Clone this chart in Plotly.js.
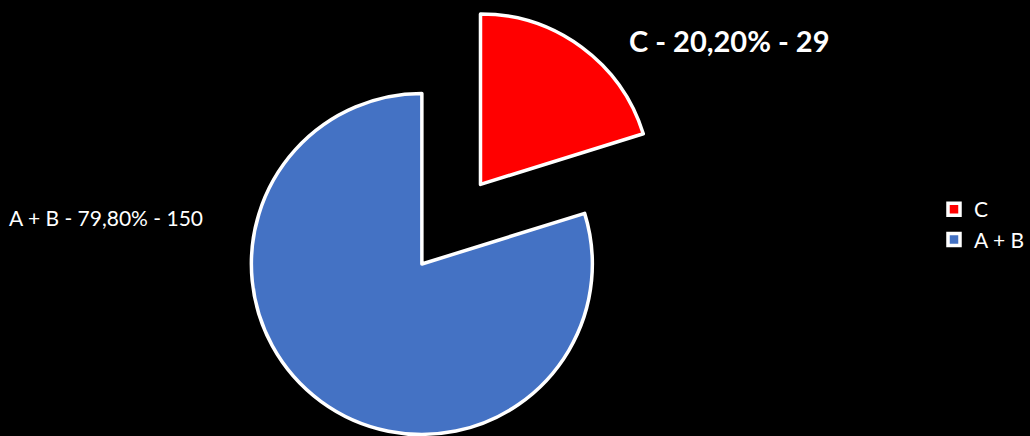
<!DOCTYPE html>
<html>
<head>
<meta charset="utf-8">
<script src="https://cdn.plot.ly/plotly-3.0.1.min.js"></script>
<style>
html, body { margin:0; padding:0; background:#000; overflow:hidden; width:1030px; height:436px; }
#chart { position:absolute; left:0; top:-16px; width:1030px; height:560px; }
</style>
</head>
<body>
<div id="chart"></div>
<script>
// Data
const labels = ["C", "A + B"];
const percents = [20.20, 79.80];
const counts = [29, 150];
const colors = ["#FF0000", "#4472C4"];
const pulls = [0.58, 0];

function fmtPct(p) { return p.toFixed(2).replace(".", ",") + "%"; }

const trace = {
  type: "pie",
  labels: labels,
  values: percents,
  sort: false,
  direction: "clockwise",
  rotation: 0,
  pull: pulls,
  textinfo: "none",
  hoverinfo: "skip",
  marker: { colors: colors, line: { color: "#FFFFFF", width: 3.5 } },
  domain: { x: [154/1030, 698/1030], y: [0, 1] }
};

const annotations = [
  { text: "<b>" + labels[0] + " - " + fmtPct(percents[0]) + " - " + counts[0] + "</b>",
    xref: "paper", yref: "paper", x: 0.6145, y: 0.91, xanchor: "left", yanchor: "middle",
    showarrow: false, font: { family: "Lato, 'Open Sans', sans-serif", size: 29, color: "#FFFFFF" } },
  { text: labels[1] + " - " + fmtPct(percents[1]) + " - " + counts[1],
    xref: "paper", yref: "paper", x: 0.0068, y: 0.5846, xanchor: "left", yanchor: "middle",
    showarrow: false, font: { family: "Lato, 'Open Sans', sans-serif", size: 21, color: "#FFFFFF" } }
];

const layout = {
  width: 1030, height: 560,
  margin: { l: 0, r: 0, t: 8, b: 8 },
  paper_bgcolor: "#000000",
  plot_bgcolor: "#000000",
  showlegend: true,
  legend: {
    x: 0.916, y: 0.5726, xanchor: "left", yanchor: "middle",
    font: { family: "Lato, 'Open Sans', sans-serif", size: 21, color: "#FFFFFF" },
    bgcolor: "rgba(0,0,0,0)", itemclick: false, itemdoubleclick: false
  },
  annotations: annotations
};

Plotly.newPlot("chart", [trace], layout, { displayModeBar: false, staticPlot: true });
</script>
</body>
</html>
